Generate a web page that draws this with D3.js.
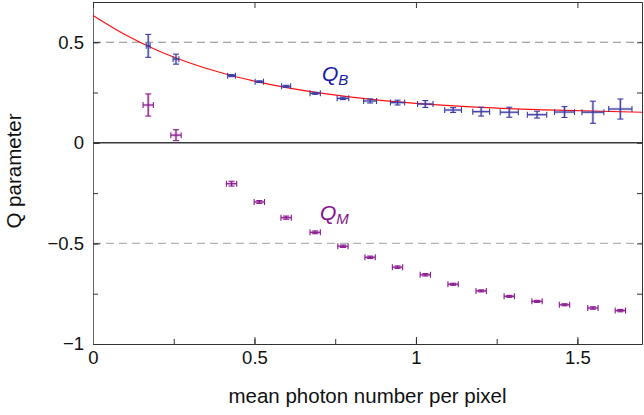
<!DOCTYPE html>
<html lang="en">
<head>
<meta charset="utf-8">
<title>Q parameter</title>
<script src="https://cdn.jsdelivr.net/npm/d3@7/dist/d3.min.js"></script>
<style>
  body { margin: 0; background: #fff; }
  svg { font-family: "Liberation Sans", Arial, sans-serif; }
</style>
</head>
<body>
<script>
// mean photon number per pixel (same for both series)
var photon = [0.171, 0.257, 0.429, 0.515, 0.598, 0.688, 0.774, 0.858, 0.943,
              1.029, 1.115, 1.202, 1.289, 1.375, 1.460, 1.548, 1.633];

var qB     = [0.482, 0.416, 0.334, 0.304, 0.281, 0.246, 0.221, 0.208, 0.200,
              0.193, 0.163, 0.155, 0.152, 0.140, 0.153, 0.152, 0.168];
var qBErrY = [0.057, 0.025, 0.005, 0.004, 0.005, 0.005, 0.006, 0.010, 0.012,
              0.017, 0.012, 0.022, 0.025, 0.017, 0.027, 0.055, 0.050];
var qBErrX = [0.006, 0.009, 0.012, 0.013, 0.014, 0.016, 0.018, 0.020, 0.022,
              0.024, 0.026, 0.026, 0.028, 0.030, 0.031, 0.034, 0.036];

var qM     = [0.188, 0.038, -0.203, -0.294, -0.372, -0.445, -0.514, -0.569, -0.618,
              -0.656, -0.703, -0.736, -0.763, -0.788, -0.805, -0.821, -0.834];
var qMErrY = [0.055, 0.027, 0.012, 0.007, 0.008, 0.007, 0.006, 0.006, 0.006,
              0.006, 0.005, 0.005, 0.005, 0.005, 0.005, 0.006, 0.006];
var qMErrX = [0.016, 0.016, 0.016, 0.016, 0.016, 0.016, 0.016, 0.016, 0.016,
              0.016, 0.016, 0.016, 0.016, 0.016, 0.016, 0.016, 0.016];

// fitted curve for Q_B
var fitX = [0, 0.1, 0.2, 0.3, 0.4, 0.5, 0.6, 0.8, 1.0, 1.2, 1.4, 1.7];
var fitY = [0.633, 0.537, 0.459, 0.397, 0.347, 0.307, 0.274, 0.227, 0.196, 0.176, 0.164, 0.152];

var xTicks = [0, 0.5, 1, 1.5];
var yTicks = [-1, -0.5, 0, 0.5];
var xMinor = [0, 0.25, 0.5, 0.75, 1, 1.25, 1.5];
var yMinor = [-1, -0.75, -0.5, -0.25, 0, 0.25, 0.5];

var W = 644, H = 415;
var mLeft = 93, mRight = 642, mTop = 2, mBottom = 344;

var svg = d3.select("body").append("svg").attr("width", W).attr("height", H);

var x = d3.scaleLinear().domain([0, 1.7]).range([mLeft, mRight]);
var y = d3.scaleLinear().domain([-1, 0.7]).range([mBottom, mTop]);

var fmt = function(d) { return d3.format("")(d).replace("-", "\u2212"); };

// dashed reference lines at +-0.5
svg.append("line").attr("x1", mLeft).attr("x2", mRight)
  .attr("y1", y(0.5)).attr("y2", y(0.5))
  .attr("stroke", "#8a8a8a").attr("stroke-dasharray", "8,5");
svg.append("line").attr("x1", mLeft).attr("x2", mRight)
  .attr("y1", y(-0.5)).attr("y2", y(-0.5))
  .attr("stroke", "#b5b5b5").attr("stroke-dasharray", "8,5").attr("stroke-width", 1.3);

// zero line
svg.append("line").attr("x1", mLeft).attr("x2", mRight)
  .attr("y1", y(0)).attr("y2", y(0))
  .attr("stroke", "#3a3a3a").attr("stroke-width", 1.4);

// axes (ticks inward)
svg.append("g").attr("transform", "translate(0," + mBottom + ")")
  .call(d3.axisBottom(x).tickValues(xTicks).tickFormat(fmt).tickSizeInner(-7).tickSizeOuter(0).tickPadding(7));
svg.append("g").attr("transform", "translate(0," + mBottom + ")")
  .call(d3.axisBottom(x).tickValues(xMinor).tickFormat("").tickSizeInner(-5).tickSizeOuter(0))
  .select(".domain").remove();
var gy = svg.append("g").attr("transform", "translate(" + mLeft + ",0)")
  .call(d3.axisLeft(y).tickValues(yTicks).tickFormat(fmt).tickSizeInner(-7).tickSizeOuter(0).tickPadding(9));
svg.append("g").attr("transform", "translate(" + mLeft + ",0)")
  .call(d3.axisLeft(y).tickValues(yMinor).tickFormat("").tickSizeInner(-5).tickSizeOuter(0))
  .select(".domain").remove();
svg.append("g").attr("transform", "translate(0," + mTop + ")")
  .call(d3.axisTop(x).tickValues(xTicks).tickFormat("").tickSizeInner(-6).tickSizeOuter(0));
svg.append("g").attr("transform", "translate(" + mRight + ",0)")
  .call(d3.axisRight(y).tickValues(yMinor).tickFormat("").tickSizeInner(-5).tickSizeOuter(0));

svg.selectAll(".tick text").attr("font-size", 18.5).attr("fill", "#111")
  .attr("font-family", "Liberation Sans, Arial, sans-serif");
svg.selectAll(".domain").attr("stroke", "#333");
svg.selectAll(".tick line").attr("stroke", "#333");
gy.select(".domain").attr("stroke", "#666");

// fitted curve
var line = d3.line().x(function(d) { return x(d[0]); }).y(function(d) { return y(d[1]); })
  .curve(d3.curveMonotoneX);
svg.append("path").datum(d3.zip(fitX, fitY))
  .attr("d", line).attr("fill", "none").attr("stroke", "#ff1010").attr("stroke-width", 1.2);

// error bars
function errorBars(vals, ex, ey, color) {
  var g = svg.append("g").attr("stroke", color).attr("fill", "none");
  vals.forEach(function(v, i) {
    var cx = x(photon[i]), cy = y(v);
    var x0 = x(photon[i] - ex[i]), x1 = x(photon[i] + ex[i]);
    var y0 = y(v - ey[i]), y1 = y(v + ey[i]);
    var cap = 3;
    // faint halo
    var h = g.append("g").attr("stroke-opacity", 0.3).attr("stroke-width", 2.6);
    h.append("line").attr("x1", x0).attr("x2", x1).attr("y1", cy).attr("y2", cy);
    h.append("line").attr("x1", cx).attr("x2", cx).attr("y1", y0).attr("y2", y1);
    var s = g.append("g").attr("stroke-width", 1.1);
    s.append("line").attr("x1", x0).attr("x2", x1).attr("y1", cy).attr("y2", cy);
    s.append("line").attr("x1", cx).attr("x2", cx).attr("y1", y0).attr("y2", y1);
    s.append("line").attr("x1", x0).attr("x2", x0).attr("y1", cy - cap).attr("y2", cy + cap);
    s.append("line").attr("x1", x1).attr("x2", x1).attr("y1", cy - cap).attr("y2", cy + cap);
    s.append("line").attr("x1", cx - cap).attr("x2", cx + cap).attr("y1", y0).attr("y2", y0);
    s.append("line").attr("x1", cx - cap).attr("x2", cx + cap).attr("y1", y1).attr("y2", y1);
  });
}
errorBars(qB, qBErrX, qBErrY, "#3c3ca6");
errorBars(qM, qMErrX, qMErrY, "#8a1a8f");

// series labels
function seriesLabel(px, py, sub, color) {
  var t = svg.append("text").attr("x", x(px)).attr("y", y(py))
    .attr("fill", color).attr("font-size", 21)
    .attr("font-family", "Liberation Sans, Arial, sans-serif").attr("font-style", "italic");
  t.append("tspan").text("Q");
  t.append("tspan").attr("font-size", 15).attr("dy", 4).text(sub);
}
seriesLabel(0.709, 0.305, "B", "#1a1aa8");
seriesLabel(0.703, -0.385, "M", "#84108a");

// axis titles
svg.append("text").attr("x", (mLeft + mRight) / 2).attr("y", 403)
  .attr("text-anchor", "middle").attr("font-size", 20.5).attr("fill", "#111")
  .text("mean photon number per pixel");
svg.append("text").attr("transform", "translate(21," + y(-0.14) + ") rotate(-90)")
  .attr("text-anchor", "middle").attr("font-size", 20.5).attr("fill", "#111")
  .text("Q parameter");
</script>
</body>
</html>
